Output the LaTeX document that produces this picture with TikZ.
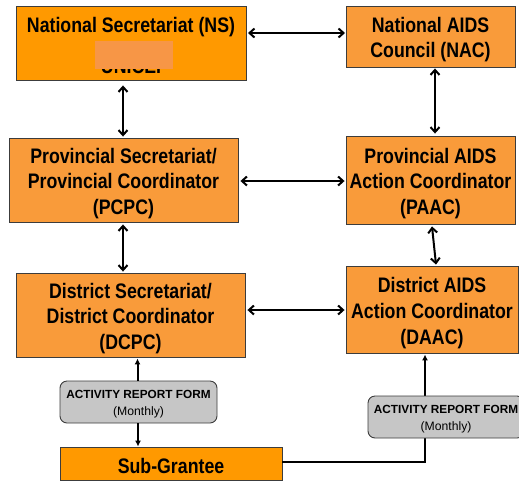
\documentclass[tikz,border=0pt]{standalone}
\usepackage{fontspec}
\setmainfont{Liberation Sans}
\newfontfamily\nb{Liberation Sans}[FakeStretch=0.845]
\usetikzlibrary{arrows.meta}
\definecolor{orA}{HTML}{FF9900}
\definecolor{orB}{HTML}{F99B3A}
\definecolor{patchc}{HTML}{F79646}
\definecolor{grayf}{HTML}{C6C6C6}
\definecolor{bord}{HTML}{3C3C3C}
\tikzset{
  box/.style={draw=bord, line width=0.9pt, inner sep=0pt},
  txt/.style={inner sep=0pt, align=center,
    font=\nb\bfseries\fontsize{21}{25.8}\selectfont},
  arf/.style={draw=bord, line width=0.9pt, fill=grayf, rounded corners=7pt,
    inner sep=0pt, minimum height=42pt},
  arfa/.style={inner sep=0pt, font=\bfseries\fontsize{11.8}{14}\selectfont},
  arfb/.style={inner sep=0pt, font=\fontsize{12.2}{14}\selectfont},
  dbl/.style={line width=2pt, {Straight Barb[length=5pt,width=9pt]}-{Straight Barb[length=5pt,width=9pt]}},
  one/.style={line width=2pt, -{Latex[length=6pt,width=6pt]}},
  plain/.style={line width=2pt}
}
\begin{document}
\begin{tikzpicture}[x=1pt,y=-1pt]
\useasboundingbox (0,0) rectangle (519,483);
% boxes
\node[box, fill=orA, minimum width=230pt, minimum height=74pt] (NS) at (131,43) {};
\node[txt] (NSt) at (131,27) {National Secretariat (NS)};
\node[txt] (UNI) at (134,66) {UNICEF};
\node[fill=patchc, minimum width=78pt, minimum height=28pt, inner sep=0pt] (patch) at (134,55) {};
\node[box, fill=orB, minimum width=169pt, minimum height=61pt] (NAC) at (430.5,36.5) {};
\node[txt] (NACt) at ([yshift=-3pt]NAC.center) {National AIDS\\Council (NAC)};
\node[box, fill=orB, minimum width=229pt, minimum height=84pt] (PCPC) at (123.5,180) {};
\node[txt] (PCPCt) at ([yshift=-3.5pt]PCPC.center) {Provincial Secretariat/\\Provincial Coordinator\\(PCPC)};
\node[box, fill=orB, minimum width=169pt, minimum height=88pt] (PAAC) at (430.5,180) {};
\node[txt] (PAACt) at ([yshift=-3.5pt]PAAC.center) {Provincial AIDS\\Action Coordinator\\(PAAC)};
\node[box, fill=orB, minimum width=229pt, minimum height=84pt] (DCPC) at (130.5,315) {};
\node[txt] (DCPCt) at ([yshift=-3.5pt]DCPC.center) {District Secretariat/\\District Coordinator\\(DCPC)};
\node[box, fill=orB, minimum width=172pt, minimum height=87pt] (DAAC) at (432,309.5) {};
\node[txt] (DAACt) at ([yshift=-3.5pt]DAAC.center) {District AIDS\\Action Coordinator\\(DAAC)};
\node[arf, minimum width=157pt] (ARFL) at (138.5,402) {};
\node[arfa] (ARFLa) at (138.5,394.5) {ACTIVITY REPORT FORM};
\node[arfb] (ARFLb) at (138.5,412.5) {(Monthly)};
\node[box, fill=orA, minimum width=222pt, minimum height=33pt] (SG) at (171,463.5) {};
\node[txt] (SGt) at ([yshift=-2pt]SG.center) {Sub-Grantee};
% connectors
\coordinate (c1) at (248,33);
\coordinate (c2) at (345,33);
\draw[dbl] (c1) -- (c2);
\draw[dbl] ([yshift=-5pt]NS.south -| 123,0) -- ([yshift=1pt]PCPC.north -| 123,0);
\draw[dbl] ([yshift=-1pt]NAC.south -| 435,0) -- ([yshift=2pt]PAAC.north -| 435,0);
\draw[dbl] ([xshift=2pt]PCPC.east |- 0,181) -- ([xshift=-1pt]PAAC.west |- 0,181);
\draw[dbl] ([yshift=-2pt]PAAC.south -| 432,0) -- ([yshift=1pt]DAAC.north -| 436,0);
\draw[dbl] ([yshift=-2pt]PCPC.south -| 123,0) -- ([yshift=1pt]DCPC.north -| 123,0);
\draw[dbl] ([xshift=2pt]DCPC.east |- 0,310) -- ([xshift=-1pt]DAAC.west |- 0,310);
\draw[one] (ARFL.north -| 137.5,0) -- ([yshift=-1pt]DCPC.south -| 137.5,0);
\draw[one] (ARFL.south -| 138,0) -- (SG.north -| 138,0);
\draw[plain] (SG.east |- 0,462) -- (426,462);
\draw[one] (425,463) -- ([yshift=-1pt]DAAC.south -| 425,0);
\node[arf, minimum width=156pt] (ARFR) at (446,417) {};
\node[arfa] (ARFRa) at (446,409.5) {ACTIVITY REPORT FORM};
\node[arfb] (ARFRb) at (446,427.5) {(Monthly)};
\end{tikzpicture}
\end{document}
